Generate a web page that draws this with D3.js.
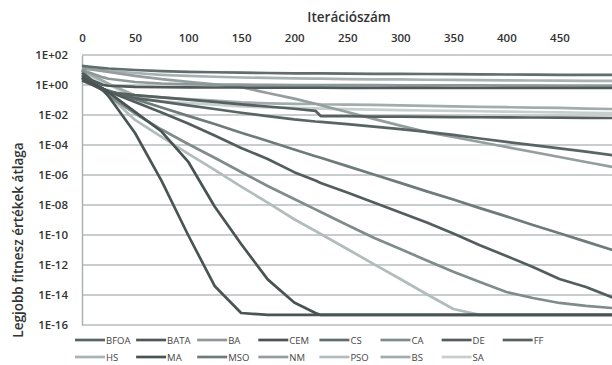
<!DOCTYPE html>
<html>
<head>
<meta charset="utf-8">
<script src="https://cdn.jsdelivr.net/npm/d3@7"></script>
<style>
  html, body { margin: 0; padding: 0; background: #ffffff; }
  svg { display: block; }
</style>
</head>
<body>
<svg id="chart" width="612" height="365"></svg>
<script>
// Iteration counts at which the mean best fitness was sampled
const iterations = [0, 10, 20, 25, 50, 75, 100, 125, 150, 175, 200, 220, 225, 250, 275, 300, 325, 350, 375, 400, 425, 450, 475, 500];

// Mean best fitness per algorithm
const BFOA = [2.95, 1.17, 5.2e-1, 3.7e-1, 1.35e-1, 7.8e-2, 4.4e-2, 2.5e-2, 1.41e-2, 8.5e-3, 5.1e-3, 3.7e-3, 3.5e-3, 2.5e-3, 1.66e-3, 1.15e-3, 7.6e-4, 4.7e-4, 2.7e-4, 1.62e-4, 9.8e-5, 6.0e-5, 3.6e-5, 2.1e-5];
const BATA = [6.3, 2.0, 1.0, 0.89, 0.74, 0.71, 0.69, 0.68, 0.68, 0.66, 0.66, 0.66, 0.66, 0.65, 0.65, 0.65, 0.65, 0.63, 0.63, 0.63, 0.63, 0.63, 0.63, 0.63];
const BA   = [10, 5.6, 3.2, 2.6, 1.58, 1.26, 1.12, 1.07, 1.05, 1.02, 1.0, 1.0, 1.0, 0.98, 0.98, 0.95, 0.95, 0.93, 0.93, 0.91, 0.91, 0.89, 0.89, 0.89];
const CEM  = [2.0, 1.0, 4.5e-1, 1.8e-1, 6.3e-4, 4.0e-7, 1.0e-10, 4.0e-14, 6.3e-16, 4.7e-16, 4.7e-16, 4.7e-16, 4.7e-16, 4.7e-16, 4.7e-16, 4.7e-16, 4.7e-16, 4.7e-16, 4.7e-16, 4.7e-16, 4.7e-16, 4.7e-16, 4.7e-16, 4.7e-16];
const CS   = [18.6, 15.8, 13.5, 12.6, 10, 8.5, 7.6, 7.1, 6.6, 6.3, 6.0, 5.9, 5.9, 5.75, 5.6, 5.5, 5.4, 5.25, 5.1, 5.0, 4.9, 4.8, 4.7, 4.7];
const CA   = [10, 1.58, 4.0e-1, 1.86e-1, 1.26e-2, 1.07e-3, 1.17e-4, 1.41e-5, 1.58e-6, 1.86e-7, 2.5e-8, 5.1e-9, 3.4e-9, 4.7e-10, 6.6e-11, 1.17e-11, 2.0e-12, 3.5e-13, 7.4e-14, 1.58e-14, 6.3e-15, 2.95e-15, 1.86e-15, 1.35e-15];
const DE   = [4.7, 1.35, 5.4e-1, 3.7e-1, 7.4e-2, 1.48e-2, 2.7e-3, 4.3e-4, 6.3e-5, 1.17e-5, 1.55e-6, 4.3e-7, 2.95e-7, 6.8e-8, 1.48e-8, 3.2e-9, 6.8e-10, 1.26e-10, 2.1e-11, 4.0e-12, 7.4e-13, 1.17e-13, 3.4e-14, 6.8e-15];
const FF   = [2.95, 1.17, 5.4e-1, 3.4e-1, 2.1e-1, 1.48e-1, 1.05e-1, 7.4e-2, 5.1e-2, 3.7e-2, 2.6e-2, 1.9e-2, 8.5e-3, 8.3e-3, 7.9e-3, 7.8e-3, 7.4e-3, 7.2e-3, 7.1e-3, 6.9e-3, 6.8e-3, 6.6e-3, 6.5e-3, 6.3e-3];
const HS   = [13.5, 11.2, 9.5, 8.9, 6.3, 4.8, 4.0, 3.55, 3.16, 2.95, 2.75, 2.63, 2.63, 2.5, 2.4, 2.34, 2.24, 2.19, 2.09, 2.04, 2.0, 1.95, 1.9, 1.86];
const MA   = [3.2, 1.26, 5.6e-1, 3.2e-1, 1.6e-2, 7.9e-4, 7.9e-6, 7.9e-9, 2.5e-11, 1.1e-13, 3.2e-15, 6.3e-16, 4.7e-16, 4.7e-16, 4.7e-16, 4.7e-16, 4.7e-16, 4.7e-16, 4.7e-16, 4.7e-16, 4.7e-16, 4.7e-16, 4.7e-16, 4.7e-16];
const MSO  = [4.0, 1.35, 5.4e-1, 4.2e-1, 1.15e-1, 3.2e-2, 8.7e-3, 2.5e-3, 6.6e-4, 1.86e-4, 5.0e-5, 1.8e-5, 1.41e-5, 3.9e-6, 1.07e-6, 3.0e-7, 8.1e-8, 2.3e-8, 6.2e-9, 1.74e-9, 4.7e-10, 1.32e-10, 3.6e-11, 1.0e-11];
const NM   = [13.5, 10.7, 8.5, 7.4, 4.1, 2.45, 1.62, 1.1, 7.1e-1, 2.95e-1, 1.23e-1, 5.6e-2, 4.5e-2, 1.58e-2, 5.5e-3, 1.95e-3, 7.2e-4, 3.4e-4, 1.58e-4, 7.4e-5, 3.4e-5, 1.58e-5, 7.4e-6, 3.4e-6];
const PSO  = [7.4, 1.45, 4.0e-1, 2.1e-1, 4.7e-3, 3.5e-4, 2.7e-5, 2.2e-6, 1.7e-7, 1.45e-8, 1.12e-9, 1.86e-10, 1.17e-10, 1.17e-11, 1.15e-12, 1.17e-13, 1.12e-14, 1.17e-15, 4.7e-16, 4.7e-16, 4.7e-16, 4.7e-16, 4.7e-16, 4.7e-16];
const BS   = [10, 4.3, 1.86, 1.2, 2.0e-1, 1.48e-1, 1.17e-1, 9.1e-2, 6.9e-2, 6.0e-2, 5.6e-2, 5.4e-2, 5.2e-2, 4.9e-2, 4.7e-2, 4.4e-2, 4.1e-2, 3.8e-2, 3.5e-2, 3.3e-2, 3.1e-2, 2.95e-2, 2.7e-2, 2.5e-2];
const SA   = [7.4, 3.4, 1.58, 1.07, 1.45e-1, 8.1e-2, 6.3e-2, 4.9e-2, 3.7e-2, 3.2e-2, 2.95e-2, 2.75e-2, 2.7e-2, 2.5e-2, 2.3e-2, 2.1e-2, 2.0e-2, 1.9e-2, 1.78e-2, 1.7e-2, 1.58e-2, 1.48e-2, 1.41e-2, 1.35e-2];

// Legend order, two rows
const legendRow1 = ["BFOA", "BATA", "BA", "CEM", "CS", "CA", "DE", "FF"];
const legendRow2 = ["HS", "MA", "MSO", "NM", "PSO", "BS", "SA"];

// Axis ticks
const xTickValues = [0, 50, 100, 150, 200, 250, 300, 350, 400, 450];
const yTickValues = [1e2, 1e0, 1e-2, 1e-4, 1e-6, 1e-8, 1e-10, 1e-12, 1e-14, 1e-16];

const seriesData = { BFOA, BATA, BA, CEM, CS, CA, DE, FF, HS, MA, MSO, NM, PSO, BS, SA };

// Grey tones for each algorithm
const seriesColor = {
  BFOA: "#596464", BATA: "#4f5959", BA: "#8e9898", CEM: "#4b5454", CS: "#616c6c",
  CA: "#808b8b", DE: "#535d5d", FF: "#56605f", HS: "#a8b2b2", MA: "#4a5353",
  MSO: "#6f7a7a", NM: "#949e9e", PSO: "#b3bcbc", BS: "#a2acac", SA: "#c6cece"
};

const svg = d3.select("#chart");
const font = "'Open Sans', 'Noto Sans', sans-serif";

const plot = { left: 82, right: 612.5, top: 55, bottom: 325 };

const x = d3.scaleLinear().domain([0, 500]).range([plot.left, plot.right]);
const y = d3.scaleLog().domain([1e-16, 1e2]).range([plot.bottom, plot.top]);

const fmtExp = d => {
  const e = Math.round(Math.log10(d));
  return "1E" + (e < 0 ? "-" : "+") + String(Math.abs(e)).padStart(2, "0");
};

// Horizontal gridlines
svg.append("g")
  .selectAll("line")
  .data(yTickValues)
  .join("line")
  .attr("x1", plot.left)
  .attr("x2", plot.right)
  .attr("y1", d => y(d))
  .attr("y2", d => y(d))
  .attr("stroke", "#b9bdbd")
  .attr("stroke-width", 1.4);

// Left axis with labels
const yAxis = svg.append("g")
  .attr("transform", `translate(${plot.left},0)`)
  .call(d3.axisLeft(y).tickValues(yTickValues).tickSize(0).tickPadding(14).tickFormat(fmtExp));
yAxis.select(".domain").attr("stroke", "#a9aeae").attr("stroke-width", 1.4);
yAxis.selectAll("text")
  .attr("font-family", font)
  .attr("font-size", 11.5)
  .attr("font-weight", 600)
  .attr("fill", "#333");

// Top axis with labels
const xAxis = svg.append("g")
  .attr("transform", `translate(0,${plot.top})`)
  .call(d3.axisTop(x).tickValues(xTickValues).tickSize(0).tickPadding(13));
xAxis.select(".domain").remove();
xAxis.selectAll("text")
  .attr("font-family", font)
  .attr("font-size", 11.5)
  .attr("font-weight", 600)
  .attr("fill", "#333");

// Series lines
const line = d3.line()
  .x((d, i) => x(iterations[i]))
  .y(d => y(d));

const drawOrder = ["SA", "PSO", "BS", "HS", "NM", "BA", "CA", "MSO", "CS", "BATA", "FF", "BFOA", "DE", "MA", "CEM"];
svg.append("g")
  .selectAll("path")
  .data(drawOrder)
  .join("path")
  .attr("d", k => line(seriesData[k]))
  .attr("fill", "none")
  .attr("stroke", k => seriesColor[k])
  .attr("stroke-width", 2.7)
  .attr("stroke-linejoin", "round");

// Axis titles
svg.append("text")
  .attr("x", 349)
  .attr("y", 22)
  .attr("text-anchor", "middle")
  .attr("font-family", font)
  .attr("font-size", 13.5)
  .attr("font-weight", 600)
  .attr("fill", "#333")
  .text("Iterációszám");

svg.append("text")
  .attr("transform", "translate(23,240) rotate(-90)")
  .attr("text-anchor", "middle")
  .attr("font-family", font)
  .attr("font-size", 13.5)
  .attr("font-weight", 600)
  .attr("fill", "#333")
  .text("Legjobb fitnesz értékek átlaga");

// Legend
const legendStep = 61.1, legendX0 = 75, swatchLen = 30;
[[legendRow1, 340], [legendRow2, 357]].forEach(([names, ly]) => {
  const g = svg.append("g");
  const item = g.selectAll("g")
    .data(names)
    .join("g")
    .attr("transform", (d, i) => `translate(${legendX0 + i * legendStep},${ly})`);
  item.append("line")
    .attr("x1", 0).attr("x2", swatchLen)
    .attr("y1", 0).attr("y2", 0)
    .attr("stroke", d => seriesColor[d])
    .attr("stroke-width", 2.7);
  item.append("text")
    .attr("x", swatchLen + 1)
    .attr("y", 3.5)
    .attr("font-family", font)
    .attr("font-size", 9.5)
    .attr("fill", "#444")
    .text(d => d);
});
</script>
</body>
</html>
